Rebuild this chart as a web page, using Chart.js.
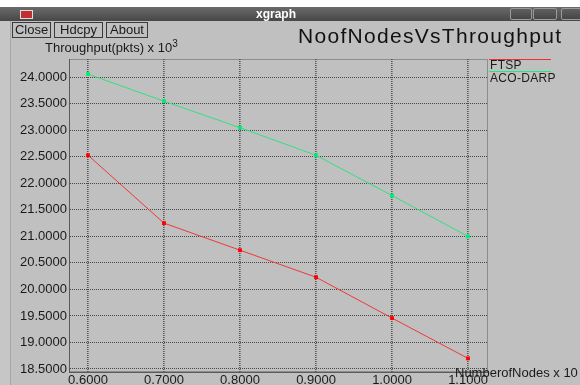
<!DOCTYPE html>
<html>
<head>
<meta charset="utf-8">
<script src="https://cdn.jsdelivr.net/npm/chart.js@4"></script>
<style>
  body { margin: 0; }
  #win { position: relative; width: 580px; height: 385px; background: #c0c0c0; overflow: hidden;
         font-family: "Liberation Sans", Arial, sans-serif; color: #1a1a1a; }
  #win canvas { position: absolute; left: 0; top: 0; }
  .abs { position: absolute; white-space: nowrap; }
  #topgap { left: 0; top: 0; width: 580px; height: 7px; background: #fff; }
  #titlebar { left: 0; top: 7px; width: 580px; height: 14px; background: linear-gradient(#6a6a6a, #474747); }
  #wtitle { left: 0; width: 552px; top: 0; line-height: 14px; text-align: center; color: #fff; font-weight: bold; font-size: 12px; }
  #icon { left: 20px; top: 3px; width: 11px; height: 7px; background: #c03030; border: 1px solid #ddd; }
  .ctl { top: 1px; height: 10px; border: 1px solid #9a9a9a; border-radius: 2px; background: linear-gradient(#606060, #454545); }
  #leftedge { left: 0; top: 21px; width: 10px; height: 364px; background: #c6c6c6; border-right: 1px solid #a6a6a6; }
  .btn { top: 22px; height: 14px; border: 1px solid #3a3a3a; font-size: 13px; line-height: 14px; text-align: center; }
  #ptitle { left: 298px; top: 25px; font-size: 21px; line-height: 21px; letter-spacing: 1.3px; color: #111; }
  #ylab { left: 45px; top: 41px; font-size: 13px; line-height: 13px; }
  #ylab sup { font-size: 10px; vertical-align: 5px; line-height: 0; }
  #xlab { left: 455px; top: 366px; font-size: 13px; line-height: 13px; }
  .legline { left: 489px; width: 62px; height: 0; border-top: 1px solid; }
  .legtxt { left: 490px; font-size: 12px; line-height: 12px; letter-spacing: 0.3px; }
</style>
</head>
<body>
<div id="win">
  <canvas id="chart" width="580" height="385"></canvas>
  <div class="abs" id="leftedge"></div>
  <div class="abs" id="topgap"></div>
  <div class="abs" id="titlebar">
    <div class="abs" id="icon"></div>
    <div class="abs" id="wtitle">xgraph</div>
    <div class="abs ctl" style="left:510px;width:20px"></div>
    <div class="abs ctl" style="left:533px;width:22px"></div>
    <div class="abs ctl" style="left:561px;width:22px"></div>
  </div>
  <div class="abs btn" style="left:12px;width:37px">Close</div>
  <div class="abs btn" style="left:54px;width:47px">Hdcpy</div>
  <div class="abs btn" style="left:106px;width:40px">About</div>
  <div class="abs" id="ptitle">NoofNodesVsThroughput</div>
  <div class="abs" id="ylab">Throughput(pkts) x 10<sup>3</sup></div>
  <div class="abs legline" style="top:59px;border-color:#f03030"></div>
  <div class="abs legtxt" style="top:59px">FTSP</div>
  <div class="abs legline" style="top:71px;border-color:#20e878"></div>
  <div class="abs legtxt" style="top:72px">ACO-DARP</div>
  <div class="abs" id="xlab">NumberofNodes x 10</div>
</div>
<script>
// values
const nodes = [0.6, 0.7, 0.8, 0.9, 1.0, 1.1];
const ftsp = [22.53, 21.25, 20.74, 20.23, 19.46, 18.70];
const acoDarp = [24.06, 23.55, 23.05, 22.53, 21.77, 21.00];
const xTicks = [0.6, 0.7, 0.8, 0.9, 1.0, 1.1];
const yTicks = [18.5, 19.0, 19.5, 20.0, 20.5, 21.0, 21.5, 22.0, 22.5, 23.0, 23.5, 24.0];

const tickFont = { family: 'Liberation Sans', size: 13 };

// dotted box around the plot, like xgraph draws it
const plotFrame = {
    id: 'plotFrame',
    beforeDatasetsDraw(chart) {
        const { ctx, chartArea: a } = chart;
        ctx.save();
        ctx.strokeStyle = '#5a5a5a';
        ctx.lineWidth = 1;
        ctx.setLineDash([1, 1]);
        ctx.strokeRect(a.left + 0.5, a.top + 0.5, a.width - 1, a.height - 1);
        ctx.restore();
    }
};

function points(ys) {
    return nodes.map((x, i) => ({ x: x, y: ys[i] }));
}

new Chart(document.getElementById('chart').getContext('2d'), {
    type: 'line',
    data: {
        datasets: [{
            label: 'FTSP',
            data: points(ftsp),
            borderColor: '#ee3838',
            backgroundColor: '#ff0000',
            borderWidth: 1,
            pointStyle: 'rect',
            pointRadius: 2.7,
            pointBorderWidth: 0
        }, {
            label: 'ACO-DARP',
            data: points(acoDarp),
            borderColor: '#30e080',
            backgroundColor: '#00ee70',
            borderWidth: 1,
            pointStyle: 'rect',
            pointRadius: 2.7,
            pointBorderWidth: 0
        }]
    },
    options: {
        responsive: false,
        animation: false,
        layout: { padding: { top: 59, right: 92, bottom: 0, left: 0 } },
        plugins: {
            legend: { display: false },
            tooltip: { enabled: false }
        },
        scales: {
            x: {
                type: 'linear',
                min: 0.575,
                max: 1.1263,
                afterBuildTicks: s => { s.ticks = xTicks.map(v => ({ value: v })); },
                afterFit: s => { s.height = 13; },
                ticks: {
                    font: tickFont,
                    color: '#1a1a1a',
                    padding: 1,
                    maxRotation: 0,
                    callback: v => v.toFixed(4)
                },
                grid: { color: 'rgba(60,60,60,0.8)', lineWidth: 1.6, drawTicks: false },
                border: { display: true, color: '#5a5a5a', dash: [1, 1] }
            },
            y: {
                type: 'linear',
                min: 18.443,
                max: 24.345,
                afterBuildTicks: s => { s.ticks = yTicks.map(v => ({ value: v })); },
                afterFit: s => { s.width = 69; },
                ticks: {
                    font: tickFont,
                    color: '#1a1a1a',
                    padding: 2,
                    callback: v => v.toFixed(4)
                },
                grid: { color: 'rgba(50,50,50,0.85)', lineWidth: 1, drawTicks: false },
                border: { display: true, color: '#5a5a5a', dash: [1, 1] }
            }
        }
    },
    plugins: [plotFrame]
});
</script>
</body>
</html>
